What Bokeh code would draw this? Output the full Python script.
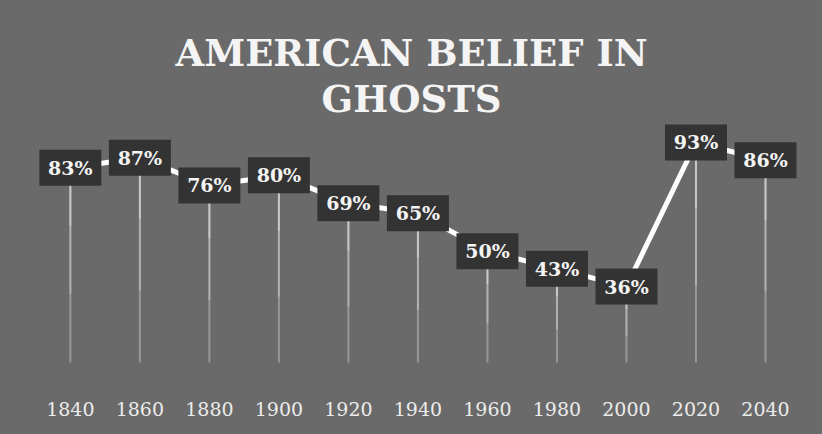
from bokeh.plotting import figure
from bokeh.models import ColumnDataSource, FixedTicker, Title
from bokeh.core.properties import value
from bokeh.embed import file_html
from bokeh.resources import INLINE

years = [1840, 1860, 1880, 1900, 1920, 1940, 1960, 1980, 2000, 2020, 2040]
belief = [83, 87, 76, 80, 69, 65, 50, 43, 36, 93, 86]
labels = [f"{v}%" for v in belief]
title_line1 = "AMERICAN BELIEF IN"
title_line2 = "GHOSTS"

BG = "#6a6a6a"
BOX = "#333333"
FONT = "DejaVu Serif"

src = ColumnDataSource(dict(x=years, y=belief, label=labels,
                            y0=[6] * len(years),
                            y1=[v * 0.35 + 4 for v in belief],
                            y2=[v * 0.7 + 2 for v in belief]))

p = figure(width=822, height=434, output_backend="svg", toolbar_location=None,
           x_range=(1819.9, 2056.4), y_range=(-7.1, 101.7),
           background_fill_color=BG, border_fill_color=BG,
           min_border_left=0, min_border_right=0, min_border_top=120,
           min_border_bottom=39, outline_line_color=None)
p.styles = {"background-color": BG}

p.title.text = title_line1
p.title.align = "center"
p.title.text_font = FONT
p.title.text_font_size = "37px"
p.title.text_font_style = "bold"
p.title.text_color = "#f4f4f4"
p.title.standoff = 0
p.title.offset = 0

t2 = Title(text=title_line2, align="center", text_font=FONT,
           text_font_size="37px", text_font_style="bold",
           text_color="#f4f4f4", standoff=0, offset=0)
p.add_layout(t2, "above")

p.grid.visible = False
p.yaxis.visible = False

ax = p.xaxis[0]
ax.ticker = FixedTicker(ticks=years)
ax.axis_line_color = None
ax.major_tick_line_color = None
ax.minor_tick_line_color = None
ax.major_tick_out = 0
ax.major_label_standoff = 6
ax.major_label_text_font = FONT
ax.major_label_text_font_size = "19px"
ax.major_label_text_color = "#ececec"

# fading drop lines
p.segment(x0="x", y0="y", x1="x", y1="y0", source=src,
          line_color="white", line_width=2, line_alpha=0.3)
p.segment(x0="x", y0="y", x1="x", y1="y1", source=src,
          line_color="white", line_width=2, line_alpha=0.25)
p.segment(x0="x", y0="y", x1="x", y1="y2", source=src,
          line_color="white", line_width=2, line_alpha=0.3)

# connecting line
p.line("x", "y", source=src, line_color="white", line_width=5)

# label boxes
p.rect("x", "y", width=62, height=36, width_units="screen",
       height_units="screen", source=src, fill_color=BOX, line_color=None)
p.text("x", "y", text="label", source=src, text_align="center",
       text_baseline="middle", text_font=value(FONT), text_font_style="bold",
       text_font_size="19px", text_color="#f4f4f4")

open("out.html", "w").write(file_html(p, INLINE))
